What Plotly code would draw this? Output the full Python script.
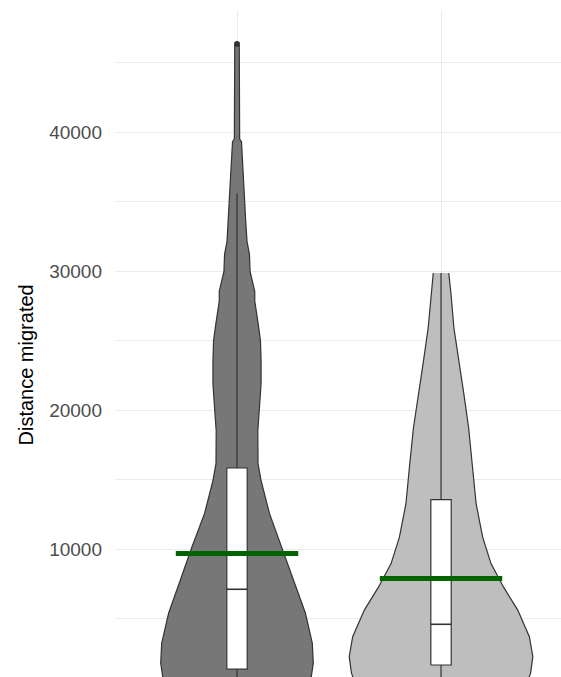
import plotly.graph_objects as go

# ---- data ----
categories = ["Group 1", "Group 2"]
positions = [1, 2]

# violin profiles: distance value and half-width (in category units, density scaled)
v1_dist = [46350, 42190, 39520, 39320, 36360, 33780, 32150, 31210, 29990, 28560, 27840,
           26190, 24970, 23540, 21890, 19740, 18520, 16150, 14930, 12560, 10140, 7755,
           5390, 3235, 1800, 796, 300]
v1_half = [0.011, 0.012, 0.013, 0.022, 0.032, 0.042, 0.049, 0.061, 0.064, 0.087, 0.087,
           0.104, 0.115, 0.118, 0.118, 0.108, 0.102, 0.103, 0.118, 0.159, 0.221, 0.278,
           0.335, 0.369, 0.374, 0.364, 0.355]

v2_dist = [29870, 28320, 25925, 23540, 21150, 18750, 15880, 13260, 10860, 8950, 7270,
           5600, 3690, 2250, 1060, 300]
v2_half = [0.038, 0.049, 0.063, 0.086, 0.112, 0.135, 0.155, 0.172, 0.204, 0.245, 0.306,
           0.376, 0.433, 0.450, 0.439, 0.420]

# boxplot statistics
q1 = [1350, 1650]
median = [7100, 4580]
q3 = [15830, 13550]
lower_fence = [300, 300]
upper_fence = [35600, 29870]
outliers_top = [46350, None]

# means (green bars)
means = [9670, 7880]

# axis ticks
y_ticks = [10000, 20000, 30000, 40000]
y_tick_text = ["10000", "20000", "30000", "40000"]

fills = ["#777777", "#BEBEBE"]
outline = "#333333"
box_half = 0.05
mean_half = 0.3

fig = go.Figure()

profiles = [(v1_dist, v1_half), (v2_dist, v2_half)]
for pos, (dist, half), fc in zip(positions, profiles, fills):
    xs = [pos - h for h in half] + [pos + h for h in reversed(half)]
    ys = list(dist) + list(reversed(dist))
    fig.add_trace(go.Scatter(x=xs, y=ys, mode="lines", fill="toself", fillcolor=fc,
                             line=dict(color=outline, width=1.2), hoverinfo="skip",
                             showlegend=False))

for i, pos in enumerate(positions):
    # whiskers
    fig.add_trace(go.Scatter(x=[pos, pos, None, pos, pos],
                             y=[q3[i], upper_fence[i], None, q1[i], lower_fence[i]],
                             mode="lines", line=dict(color=outline, width=1.2),
                             hoverinfo="skip", showlegend=False))
    # box
    fig.add_trace(go.Scatter(x=[pos - box_half, pos + box_half, pos + box_half,
                                pos - box_half, pos - box_half],
                             y=[q1[i], q1[i], q3[i], q3[i], q1[i]],
                             mode="lines", fill="toself", fillcolor="white",
                             line=dict(color=outline, width=1.2), hoverinfo="skip",
                             showlegend=False))
    # median
    fig.add_trace(go.Scatter(x=[pos - box_half, pos + box_half], y=[median[i], median[i]],
                             mode="lines", line=dict(color=outline, width=1.6),
                             hoverinfo="skip", showlegend=False))
    if outliers_top[i] is not None:
        fig.add_trace(go.Scatter(x=[pos], y=[outliers_top[i]], mode="markers",
                                 marker=dict(color=outline, size=6), showlegend=False))

for pos, m in zip(positions, means):
    fig.add_trace(go.Scatter(x=[pos - mean_half, pos + mean_half], y=[m, m], mode="lines",
                             line=dict(color="#006400", width=5), showlegend=False))

grid = "#EBEBEB"
fig.update_layout(
    width=561, height=677,
    margin=dict(l=115, r=0, t=10, b=0),
    paper_bgcolor="white", plot_bgcolor="white",
    font=dict(family="Liberation Sans, Arial, sans-serif"),
    xaxis=dict(range=[0.402, 2.588], tickvals=positions, ticktext=categories,
               showticklabels=False, showgrid=True, gridcolor=grid, gridwidth=1,
               zeroline=False, showline=False, ticks=""),
    yaxis=dict(range=[785, 48805], tickvals=y_ticks, ticktext=y_tick_text,
               showgrid=True, gridcolor=grid, gridwidth=1, zeroline=False,
               showline=False, ticks="", ticklabelstandoff=12,
               tickfont=dict(size=19, color="#4D4D4D"),
               minor=dict(dtick=5000, tick0=5000, showgrid=True, gridcolor=grid,
                          gridwidth=1)),
    annotations=[dict(text="Distance migrated", textangle=-90, xref="paper", yref="paper",
                      x=(25 - 115) / 446, y=(677 - 365.5) / 667, xanchor="center",
                      yanchor="middle", showarrow=False,
                      font=dict(size=20, color="black"))],
)

fig.write_html("out.html", config={"displayModeBar": False},
               post_script="document.body.style.margin='0';")
